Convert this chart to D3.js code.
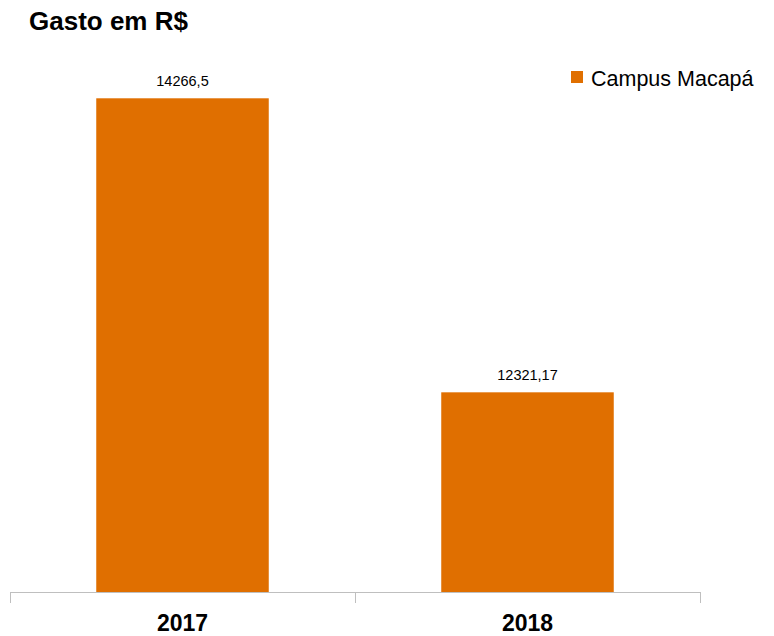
<!DOCTYPE html>
<html><head><meta charset="utf-8">
<script src="https://cdn.jsdelivr.net/npm/d3@7"></script>
<style>body{margin:0;background:#fff}svg{display:block}</style>
</head><body>
<svg id="c" width="774" height="636"></svg>
<script>
const categories = ["2017", "2018"];
const seriesName = "Campus Macapá";
const values = [14266.5, 12321.17];
const yDomain = [11000, 14500];

const svg = d3.select("#c");
const W = 774, H = 636;
const m = {left: 10, right: 74, top: 63, bottom: 44};
const font = "'Liberation Sans', Arial, sans-serif";
const color = "#E06F00";

const x = d3.scaleBand().domain(categories).range([m.left, W - m.right]).paddingInner(0.5).paddingOuter(0.25);
const xOuter = d3.scaleBand().domain(categories).range([m.left, W - m.right]);
const y = d3.scaleLinear().domain(yDomain).range([H - m.bottom, m.top]);
const fmt = d3.formatLocale({decimal: ",", thousands: "", grouping: [3], currency: ["R$", ""]}).format("~f");

// title
svg.append("text").attr("x", 29).attr("y", 30)
  .attr("font-family", font).attr("font-weight", "bold").attr("font-size", 26)
  .attr("fill", "#000").text("Gasto em R$");

// bars
svg.selectAll("rect.bar").data(values).join("rect").attr("class", "bar")
  .attr("x", (d, i) => x(categories[i])).attr("width", x.bandwidth())
  .attr("y", d => y(d)).attr("height", d => y(yDomain[0]) - y(d))
  .attr("fill", color);

// value labels
svg.selectAll("text.val").data(values).join("text").attr("class", "val")
  .attr("x", (d, i) => x(categories[i]) + x.bandwidth() / 2)
  .attr("y", d => y(d) - 12)
  .attr("text-anchor", "middle").attr("font-family", font).attr("font-size", 14.5)
  .attr("fill", "#000").text(d => fmt(d));

// x axis
const base = y(yDomain[0]);
const axisG = svg.append("g");
axisG.append("line").attr("x1", m.left).attr("x2", W - m.right).attr("y1", base + 0.5).attr("y2", base + 0.5)
  .attr("stroke", "#BFBFBF").attr("stroke-width", 1);
const tickXs = categories.map(c => xOuter(c)).concat([xOuter(categories[categories.length - 1]) + xOuter.bandwidth()]);
axisG.selectAll("line.tick").data(tickXs).join("line").attr("class", "tick")
  .attr("x1", d => d + 0.5).attr("x2", d => d + 0.5).attr("y1", base).attr("y2", base + 11)
  .attr("stroke", "#BFBFBF").attr("stroke-width", 1);
axisG.selectAll("text.cat").data(categories).join("text").attr("class", "cat")
  .attr("x", d => xOuter(d) + xOuter.bandwidth() / 2).attr("y", base + 39)
  .attr("text-anchor", "middle").attr("font-family", font).attr("font-weight", "bold").attr("font-size", 23)
  .attr("fill", "#000").text(d => d);

// legend
const lg = svg.append("g").attr("transform", "translate(571,71)");
lg.append("rect").attr("width", 12).attr("height", 12).attr("fill", color);
lg.append("text").attr("x", 20).attr("y", 15).attr("font-family", font).attr("font-size", 21.5)
  .attr("fill", "#000").text(seriesName);
</script>
</body></html>
